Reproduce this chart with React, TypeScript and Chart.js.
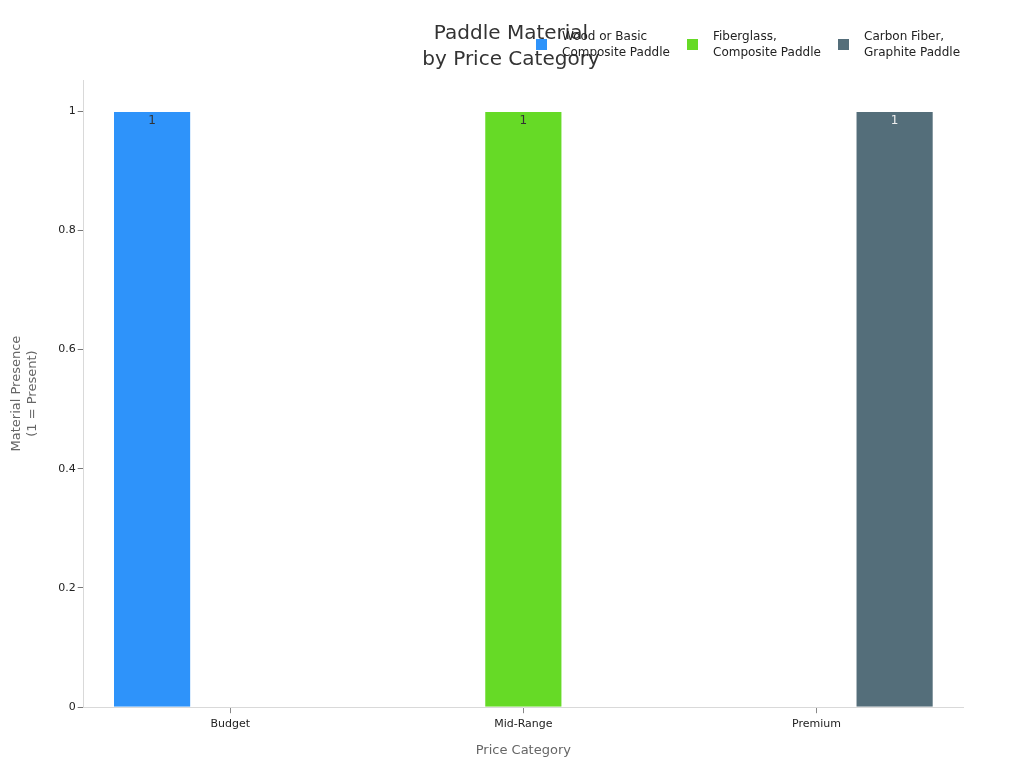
import React, { useEffect, useRef } from 'react';
import { Chart, registerables } from 'chart.js';

Chart.register(...registerables);

const categories = ['Budget', 'Mid-Range', 'Premium'];
const seriesNames = [
  ['Wood or Basic', 'Composite Paddle'],
  ['Fiberglass,', 'Composite Paddle'],
  ['Carbon Fiber,', 'Graphite Paddle'],
];
const woodValues = [1, 0, 0];
const fiberglassValues = [0, 1, 0];
const carbonValues = [0, 0, 1];
const colors = ['#2E93FA', '#66DA26', '#546E7A'];
const labelColors = ['#333333', '#333333', '#eeeeee'];
const yTicks = [0, 0.2, 0.4, 0.6, 0.8, 1];

const FONT = "'DejaVu Sans', sans-serif";

const App: React.FC = () => {
  const canvasRef = useRef<HTMLCanvasElement | null>(null);
  const chartInstance = useRef<Chart | null>(null);

  useEffect(() => {
    const canvas = canvasRef.current;
    if (!canvas) return;
    const ctx = canvas.getContext('2d');
    if (!ctx) return;

    if (chartInstance.current) chartInstance.current.destroy();

    const series = [woodValues, fiberglassValues, carbonValues];

    chartInstance.current = new Chart(ctx, {
      type: 'bar',
      data: {
        labels: categories,
        datasets: series.map((values, i) => ({
          label: seriesNames[i].join(' '),
          data: values,
          backgroundColor: colors[i],
          borderColor: 'rgba(255,255,255,0.6)',
          borderWidth: 1,
          categoryPercentage: 0.8,
          barPercentage: 1,
        })),
      },
      options: {
        animation: false,
        responsive: true,
        maintainAspectRatio: false,
        layout: { padding: { left: 9, right: 61, top: 80, bottom: 10 } },
        plugins: {
          legend: { display: false },
          title: { display: false },
          tooltip: { enabled: false },
        },
        scales: {
          x: {
            grid: {
              drawOnChartArea: false,
              drawTicks: true,
              tickLength: 6,
              offset: false,
              color: '#888888',
            },
            border: { color: '#d9d9d9' },
            ticks: { color: '#222222', font: { family: FONT, size: 11 }, padding: 4 },
            title: {
              display: true,
              text: 'Price Category',
              color: '#666666',
              font: { family: FONT, size: 13 },
              padding: { top: 8, bottom: 0 },
            },
          },
          y: {
            min: 0,
            max: 1.052,
            afterBuildTicks: (axis) => {
              axis.ticks = yTicks.map((v) => ({ value: v }));
            },
            grid: {
              drawOnChartArea: false,
              drawTicks: true,
              tickLength: 6,
              color: '#777777',
            },
            border: { color: '#d9d9d9' },
            ticks: {
              color: '#222222',
              font: { family: FONT, size: 11 },
              padding: 2,
              callback: (v) => String(Math.round(Number(v) * 10) / 10),
            },
            title: {
              display: true,
              text: ['Material Presence', '(1 = Present)'],
              color: '#666666',
              font: { family: FONT, size: 13 },
              padding: { top: 0, bottom: 16 },
            },
          },
        },
      },
      plugins: [
        {
          id: 'valueLabels',
          afterDatasetsDraw(chart) {
            const c = chart.ctx;
            c.save();
            c.font = `12px ${FONT}`;
            c.textAlign = 'center';
            c.textBaseline = 'middle';
            chart.data.datasets.forEach((ds, di) => {
              const meta = chart.getDatasetMeta(di);
              meta.data.forEach((bar, i) => {
                const v = ds.data[i] as number;
                if (!v) return;
                c.fillStyle = labelColors[di];
                c.fillText(String(v), bar.x, bar.y + 10);
              });
            });
            c.restore();
          },
        },
        {
          id: 'titleAndLegend',
          afterDraw(chart) {
            const c = chart.ctx;
            c.save();
            c.fillStyle = '#333333';
            c.font = `20px ${FONT}`;
            c.textAlign = 'center';
            c.textBaseline = 'middle';
            c.fillText('Paddle Material', 511, 34);
            c.fillText('by Price Category', 511, 60);

            const xs = [536, 687, 838];
            c.font = `12px ${FONT}`;
            c.textAlign = 'left';
            seriesNames.forEach((lines, i) => {
              c.fillStyle = colors[i];
              c.fillRect(xs[i], 39, 11, 11);
              c.fillStyle = '#222222';
              lines.forEach((line, li) => {
                c.fillText(line, xs[i] + 26, 37 + li * 16);
              });
            });
            c.restore();
          },
        },
      ],
    });

    return () => {
      if (chartInstance.current) {
        chartInstance.current.destroy();
        chartInstance.current = null;
      }
    };
  }, []);

  return (
    <div style={{ position: 'fixed', left: 0, top: 0, width: '1024px', height: '768px', background: '#ffffff' }}>
      <canvas ref={canvasRef}></canvas>
    </div>
  );
};

export default App;
